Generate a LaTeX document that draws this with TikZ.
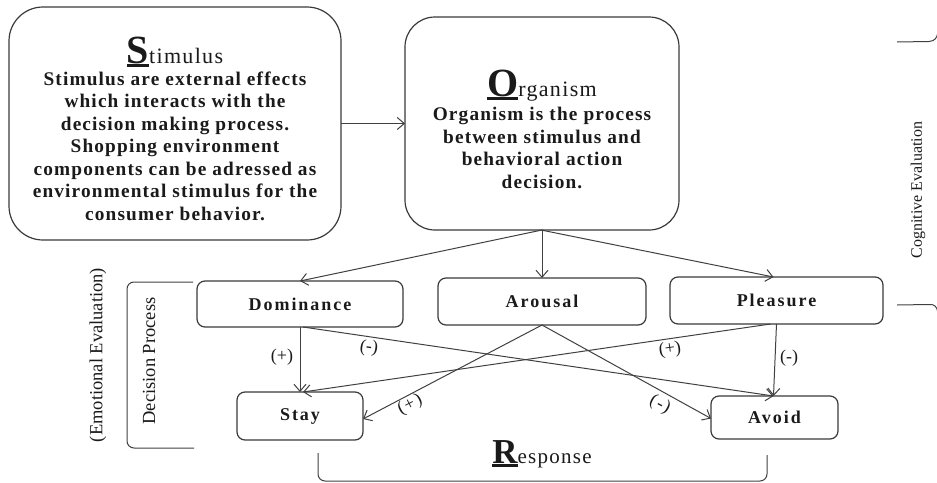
\documentclass[tikz,border=0pt]{standalone}
\usepackage{fontspec}
\setmainfont{Liberation Serif}
\newfontfamily\spaced[LetterSpace=6]{Liberation Serif}
\newfontfamily\wide[LetterSpace=11]{Liberation Serif}
\usetikzlibrary{arrows.meta}

\definecolor{ink}{HTML}{1A1A1A}
\definecolor{edge}{HTML}{3A3A3A}
\definecolor{wire}{HTML}{404040}

% big underlined initial of a heading
\newcommand\headcap[2]{{\fontsize{#1}{#1}\selectfont\bfseries
  \setbox0=\hbox{#2}\rlap{\rule[-3.5pt]{\wd0}{2.6pt}}\box0}}

\begin{document}
\begin{tikzpicture}[x=1pt,y=-1pt,
  every node/.style={inner sep=0pt,outer sep=0pt,text=ink},
  frame/.style={draw=edge,line width=1.2pt,fill=white},
  bigbox/.style={frame,rounded corners=34pt},
  smallbox/.style={frame,rounded corners=8pt,
    font=\fontsize{18}{18}\selectfont\wide\bfseries},
  body/.style={align=center,font=\fontsize{19.3}{22.5}\selectfont\spaced\bfseries},
  side/.style={rotate=90,font=\fontsize{18.5}{18.5}\selectfont},
  sign/.style={font=\fontsize{18}{18}\selectfont},
  link/.style={draw=wire,line width=1pt,-{Straight Barb[length=7pt,width=12pt]}},
  bracket/.style={draw=wire,line width=1pt,rounded corners=7pt}
]
\useasboundingbox (0,0) rectangle (937,482);

% stimulus and organism boxes
\node[bigbox,minimum width=332pt,minimum height=233pt] (stim) at (175,123.5) {};
\node[bigbox,rounded corners=30pt,minimum width=274pt,minimum height=213pt] (org) at (542,123.5) {};

\node[anchor=base] (shead) at (175,63) {\headcap{40}{S}{\fontsize{22}{22}\selectfont\spaced timulus}};
\node[body] (sbody) at (175,146) {Stimulus are external effects\\which interacts with the\\decision making process.\\Shopping environment\\components can be adressed as\\environmental stimulus for the\\consumer behavior.};

\node[anchor=base] (ohead) at (542,96) {\headcap{40}{O}{\fontsize{22}{22}\selectfont\spaced rganism}};
\node[body] (obody) at (542,148) {Organism is the process\\between stimulus and\\behavioral action\\decision.};

% emotional dimensions
\node[smallbox,minimum width=206pt,minimum height=46pt] (dom) at (300,304) {Dominance};
\node[smallbox,minimum width=208pt,minimum height=47pt] (aro) at (542,301.5) {Arousal};
\node[smallbox,minimum width=213pt,minimum height=47pt] (ple) at (776.5,300.5) {Pleasure};

% responses
\node[smallbox,minimum width=126pt,minimum height=48pt] (stay) at (300,416) {Stay};
\node[smallbox,minimum width=127pt,minimum height=43pt] (avoid) at (774.5,417.5) {Avoid};

% connectors
\draw[link] (stim) -- (org);
\draw[link] (org.south) -- (dom.north);
\draw[link] (org.south) -- (aro.north);
\draw[link] ([xshift=-1pt]org.south) -- ([xshift=-3pt]ple.north);

\draw[link] (dom.south) -- (stay.north);
\draw[link] ([xshift=3pt]dom.south) -- ([xshift=-1pt]avoid.north);
\draw[link] (ple.south) -- ([xshift=-1pt]avoid.north);
\draw[link] ([xshift=-6pt]ple.south) -- ([xshift=3pt]stay.north);
\draw[link] (aro.south) -- ([yshift=-3pt]stay.east);
\draw[link] (aro.south) -- ([yshift=-1pt]avoid.west);

% signs on the connectors
\node[sign] (s1) at (282,357) {(+)};
\node[sign,rotate=-8] (s2) at (369,348) {(-)};
\node[sign,rotate=8] (s3) at (670,350) {(+)};
\node[sign] (s4) at (789,358) {(-)};
\node[sign,rotate=27] (s5) at (410,405) {(\kern1.5pt+\kern1.5pt)};
\node[sign,rotate=-28] (s6) at (660,405) {(\kern1.5pt-\kern1.5pt)};

% side labels and brackets
\node[side] (emo) at (98,355) {(Emotional Evaluation)};
\node[side] (dec) at (149,361) {Decision Process};
\node[rotate=90,font=\fontsize{16}{16}\selectfont] (cog) at (918,190) {Cognitive Evaluation};

\coordinate (dtop) at (193,282);
\coordinate (dbot) at (194,448);
\draw[bracket] (dtop) -- (127,282) -- (127,448) -- (dbot);

\coordinate (rl) at (318,453);
\coordinate (rr) at (767,455);
\draw[bracket] (rl) -- (318,481) -- (767,481) -- (rr);

\coordinate (ct) at (897,42);
\coordinate (cb) at (897,305);
\draw[draw=wire,line width=1pt] (ct) -- (929,41.5) .. controls (935,41) and (937,38) .. (938,32);
\draw[draw=wire,line width=1pt] (cb) -- (929,304.5) .. controls (935,304) and (937,307) .. (938,313);

\node[anchor=base] (resp) at (542,463) {\headcap{35}{R}{\fontsize{21}{21}\selectfont\spaced esponse}};
\end{tikzpicture}
\end{document}
